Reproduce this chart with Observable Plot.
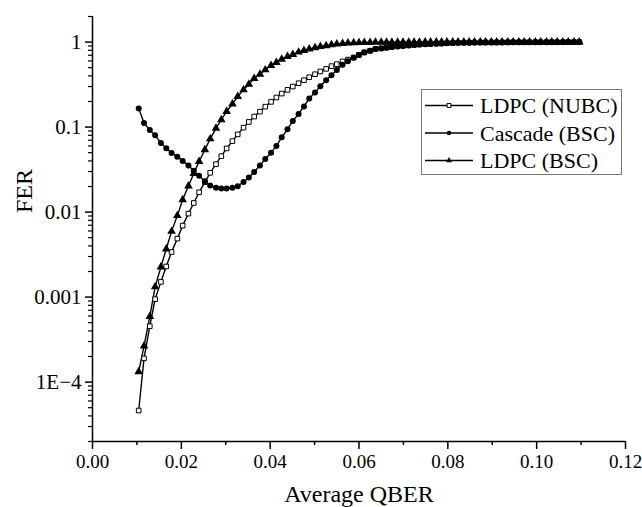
<!DOCTYPE html>
<html><head><meta charset="utf-8">
<script src="https://cdn.jsdelivr.net/npm/d3@7"></script>
<script src="https://cdn.jsdelivr.net/npm/@observablehq/plot@0.6"></script>
<style>
body{margin:0;background:#fff}
#chart{position:relative;width:642px;height:507px}
#chart svg, #chart svg text{font-family:"Liberation Serif","Times New Roman",Times,serif !important}
</style>
</head><body><div id="chart"></div>
<script>
const qber = [0.0104,0.0116,0.0129,0.0141,0.0154,0.0166,0.0178,0.0191,0.0203,0.0216,
0.0228,0.0240,0.0253,0.0265,0.0278,0.0290,0.0302,0.0315,0.0327,0.0340,
0.0352,0.0364,0.0377,0.0389,0.0402,0.0414,0.0426,0.0439,0.0451,0.0464,
0.0476,0.0488,0.0501,0.0513,0.0526,0.0538,0.0550,0.0563,0.0575,0.0588,
0.0600,0.0612,0.0625,0.0637,0.0650,0.0662,0.0674,0.0687,0.0699,0.0712,
0.0724,0.0736,0.0749,0.0761,0.0774,0.0786,0.0798,0.0811,0.0823,0.0836,
0.0848,0.0860,0.0873,0.0885,0.0898,0.0910,0.0922,0.0935,0.0947,0.0960,
0.0972,0.0984,0.0997,0.1009,0.1022,0.1034,0.1046,0.1059,0.1071,0.1084,0.1096];

const ferNUBC = [4.63e-5,1.90e-4,4.54e-4,9.46e-4,1.51e-3,2.29e-3,3.39e-3,4.87e-3,6.93e-3,9.60e-3,
0.0128,0.0171,0.0225,0.0290,0.0366,0.0455,0.0561,0.0684,0.0821,0.0986,
0.115,0.133,0.152,0.174,0.198,0.223,0.248,0.274,0.300,0.328,
0.356,0.386,0.419,0.451,0.484,0.521,0.550,0.592,0.622,0.658,
0.708,0.758,0.791,0.829,0.845,0.861,0.877,0.892,0.904,0.916,
0.926,0.936,0.944,0.952,0.959,0.965,0.970,0.975,0.980,0.983,
0.986,0.988,0.989,0.990,0.991,0.992,0.993,0.994,0.995,0.995,
0.996,0.996,0.997,0.997,0.998,0.998,0.998,0.999,0.999,0.999,0.999];

const ferCascade = [0.166,0.112,0.0923,0.0799,0.0652,0.0565,0.0497,0.0448,0.0400,0.0354,
0.0306,0.0267,0.0231,0.0205,0.0193,0.0190,0.0189,0.0193,0.0202,0.0226,
0.0255,0.0296,0.0354,0.0422,0.0500,0.0601,0.0757,0.0940,0.118,0.143,
0.175,0.217,0.256,0.303,0.356,0.408,0.470,0.543,0.597,0.656,
0.706,0.756,0.789,0.827,0.843,0.859,0.875,0.890,0.902,0.914,
0.924,0.934,0.942,0.950,0.957,0.963,0.968,0.973,0.979,0.981,
0.984,0.986,0.988,0.989,0.990,0.991,0.992,0.993,0.994,0.995,
0.995,0.996,0.996,0.997,0.997,0.998,0.998,0.998,0.999,0.999,0.999];

const ferBSC = [1.32e-4,2.66e-4,5.90e-4,1.32e-3,2.26e-3,3.68e-3,5.93e-3,9.09e-3,0.0140,0.0203,
0.0285,0.0394,0.0542,0.0727,0.0967,0.122,0.153,0.187,0.229,0.274,
0.319,0.373,0.419,0.471,0.531,0.576,0.630,0.678,0.716,0.762,
0.798,0.827,0.857,0.890,0.904,0.929,0.952,0.965,0.973,0.981,
0.986,0.989,0.991,0.993,0.995,0.996,0.997,0.998,0.999,0.999,
0.999,0.999,1,1,1,1,1,1,1,1,
1,1,1,1,1,1,1,1,1,1,
1,1,1,1,1,1,1,1,1,1,1];

const seriesNames = ["LDPC (NUBC)", "Cascade (BSC)", "LDPC (BSC)"];
const xTicks = [0, 0.02, 0.04, 0.06, 0.08, 0.10, 0.12];
const xMinorTicks = [0.01, 0.03, 0.05, 0.07, 0.09, 0.11];
const yTicks = [1e-4, 1e-3, 1e-2, 1e-1, 1];
const yTickLabels = ["1E\u22124", "0.001", "0.01", "0.1", "1"];
const yMinorTicks = [];
for (let d = -5; d <= 0; d++) for (let k = 2; k <= 9; k++) {
  const v = k * Math.pow(10, d);
  if (v >= 2e-5 && v <= 2) yMinorTicks.push(v);
}

const allSeries = [ferNUBC, ferCascade, ferBSC];
const rows = [];
seriesNames.forEach((s, j) => qber.forEach((x, i) => rows.push({series: s, x, y: allSeries[j][i]})));
const bySeries = s => rows.filter(r => r.series === s);

const font = "Liberation Serif";
const chart = Plot.plot({
  width: 642, height: 507,
  marginLeft: 92, marginRight: 17, marginTop: 16, marginBottom: 66,
  style: {fontFamily: font, fontSize: "20px", background: "white", color: "black", overflow: "visible"},
  x: {domain: [0, 0.12]},
  y: {type: "log", domain: [2e-5, 2]},
  marks: [
    Plot.axisX({ticks: xTicks, tickFormat: d3.format(".2f"), tickSize: 8, tickPadding: 5, strokeWidth: 1.5, label: null, fontSize: 19}),
    Plot.axisX({ticks: xMinorTicks, tickSize: 4, text: null, label: null, strokeWidth: 1.5}),
    Plot.axisY({ticks: yTicks, tickFormat: d => yTickLabels[yTicks.indexOf(d)], tickSize: 7, tickPadding: 4, strokeWidth: 1.5, label: null, fontSize: 21}),
    Plot.axisY({ticks: yMinorTicks, tickSize: 4, text: null, label: null, strokeWidth: 1.2}),
    Plot.ruleX([0], {strokeWidth: 1.5, stroke: "black"}),
    Plot.ruleY([2e-5], {strokeWidth: 1.5, stroke: "black"}),
    Plot.line(rows, {x: "x", y: "y", z: "series", stroke: "black", strokeWidth: 1.4}),
    Plot.dot(bySeries(seriesNames[0]), {x: "x", y: "y", symbol: "square", r: 2.6, fill: "white", stroke: "black", strokeWidth: 1}),
    Plot.dot(bySeries(seriesNames[1]), {x: "x", y: "y", symbol: "circle", r: 3, fill: "black", stroke: "none"}),
    Plot.dot(bySeries(seriesNames[2]), {x: "x", y: "y", symbol: "triangle", r: 3.2, fill: "black", stroke: "none"}),
    Plot.text(["Average QBER"], {frameAnchor: "bottom", dy: 60, fontSize: 24, fill: "black"}),
    Plot.text(["FER"], {frameAnchor: "left", dx: -68, dy: -16, rotate: -90, fontSize: 24, fill: "black"})
  ]
});
document.getElementById("chart").appendChild(chart);

// Legend box
const svg = d3.select(chart);
const lg = svg.append("g");
lg.append("rect").attr("x", 421.5).attr("y", 89.5).attr("width", 200).attr("height", 85)
  .attr("fill", "white").attr("stroke", "#777").attr("stroke-width", 1);
const legendSyms = [
  {type: d3.symbolSquare, fill: "white", stroke: "black"},
  {type: d3.symbolCircle, fill: "black", stroke: "none"},
  {type: d3.symbolTriangle, fill: "black", stroke: "none"}
];
seriesNames.forEach((s, i) => {
  const cy = 105.5 + i * 27.5;
  lg.append("line").attr("x1", 425).attr("x2", 473).attr("y1", cy).attr("y2", cy)
    .attr("stroke", "black").attr("stroke-width", 1.3);
  lg.append("path").attr("transform", `translate(449,${cy})`)
    .attr("d", d3.symbol(legendSyms[i].type, Math.PI * 2.2 * 2.2)())
    .attr("fill", legendSyms[i].fill).attr("stroke", legendSyms[i].stroke).attr("stroke-width", 1);
  lg.append("text").attr("x", 480).attr("y", cy).attr("dy", "0.35em")
    .style("text-anchor", "start").style("font-size", "22px").attr("fill", "black").text(s);
});
</script></body></html>
